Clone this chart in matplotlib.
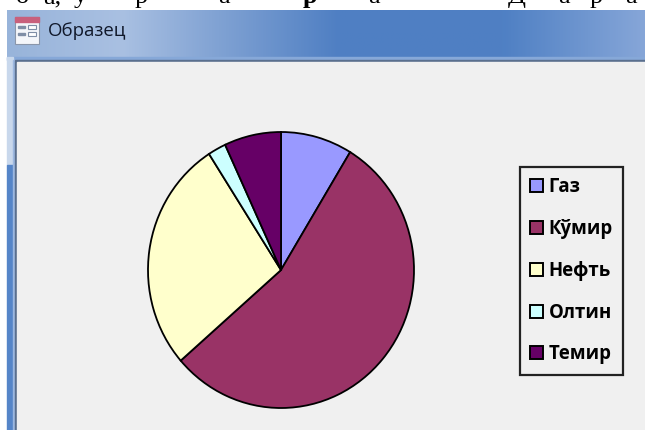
import numpy as np
import matplotlib
matplotlib.use('Agg')
import matplotlib.pyplot as plt
from matplotlib.colors import LinearSegmentedColormap
from matplotlib.patches import Rectangle

labels = ['Газ', 'Кўмир', 'Нефть', 'Олтин', 'Темир']
values = [8.7, 54.9, 27.3, 2.2, 6.9]
colors = ['#9999ff', '#993366', '#ffffcc', '#ccffff', '#660066']

title = 'Образец'
panel = '#f0f0f0'

plt.rcParams['font.family'] = ['Open Sans', 'DejaVu Sans']

fig = plt.figure(figsize=(6.45, 4.3), dpi=100, facecolor='white')

# window chrome, drawn in pixel coordinates
bg = fig.add_axes([0, 0, 1, 1])
bg.set_xlim(0, 645)
bg.set_ylim(430, 0)
bg.axis('off')

# cut-off line of the page text above the window
for x, s, w in [(16, 'о', 'normal'), (43, 'а,', 'normal'), (74, 'ў', 'normal'), (135, 'р', 'normal'),
                (218, 'а', 'normal'), (303, 'р', 'bold'), (368, 'а', 'normal'), (508, 'Д', 'normal'),
                (558, 'а', 'normal'), (590, 'р', 'normal'), (625, 'а', 'normal')]:
    bg.text(x, 3, s, family='Liberation Serif', fontsize=19, fontweight=w, color='black', va='baseline', clip_on=True)

grad = LinearSegmentedColormap.from_list('bar', [(0, '#98b4da'), (0.18, '#a9c0e2'), (0.32, '#83a4d4'),
                                                 (0.52, '#4f7fc3'), (0.78, '#4f80c4'), (1, '#86a6d8')])
bg.imshow(np.linspace(0, 1, 256)[None, :], cmap=grad, extent=(7, 645, 57, 10), aspect='auto', zorder=2)
bg.add_patch(Rectangle((7, 57), 638, 3, color='#86a8d8', zorder=2))
bg.add_patch(Rectangle((7, 57), 6, 108, color='#c9d8ec', zorder=2))
bg.add_patch(Rectangle((7, 165), 6, 265, color='#5585c8', zorder=2))
bg.add_patch(Rectangle((13, 60), 2, 370, color='#9db8e0', zorder=2))
bg.add_patch(Rectangle((15, 60), 630, 370, color='#5a6f8e', zorder=2))
bg.add_patch(Rectangle((17, 62), 628, 368, color=panel, zorder=2))

# form icon
bg.add_patch(Rectangle((15, 17), 24, 27, facecolor='#f4f6fa', edgecolor='#8a96aa', lw=0.8, zorder=3))
bg.add_patch(Rectangle((15, 17), 24, 5, color='#c8607c', zorder=4))
bg.add_patch(Rectangle((18, 26), 7, 2, color='#7f8ea6', zorder=4))
bg.add_patch(Rectangle((18, 33), 7, 2, color='#7f8ea6', zorder=4))
bg.add_patch(Rectangle((28, 25), 8, 4, facecolor='white', edgecolor='#7f8ea6', lw=0.8, zorder=4))
bg.add_patch(Rectangle((28, 32), 8, 4, facecolor='white', edgecolor='#7f8ea6', lw=0.8, zorder=4))
bg.text(48, 31, title, fontsize=13.4, color='#10182a', va='center', zorder=5)

# pie, slightly taller than wide as in the screenshot
ax = fig.add_axes([148 / 645, 1 - 408 / 430, 266 / 645, 276 / 430])
wedges, _ = ax.pie(values, colors=colors, startangle=90, counterclock=False,
                   wedgeprops={'edgecolor': 'black', 'linewidth': 1.3})
ax.set_aspect('auto')
ax.set_xlim(-1, 1)
ax.set_ylim(-1, 1)
for w in wedges:
    w.set_clip_on(False)

leg = fig.legend(wedges, labels, loc='upper left', bbox_to_anchor=(520 / 645, 1 - 167 / 430),
                 bbox_transform=fig.transFigure, borderaxespad=0, fancybox=False, framealpha=1,
                 facecolor=panel, edgecolor='#222222', prop={'weight': 'bold', 'size': 13.4},
                 handlelength=0.7, handleheight=0.7, handletextpad=0.3, labelspacing=1.17,
                 borderpad=0.55)
leg.get_frame().set_linewidth(1.6)
for h in leg.legend_handles:
    h.set_linewidth(1.4)

fig.savefig('out.png', dpi=100)
